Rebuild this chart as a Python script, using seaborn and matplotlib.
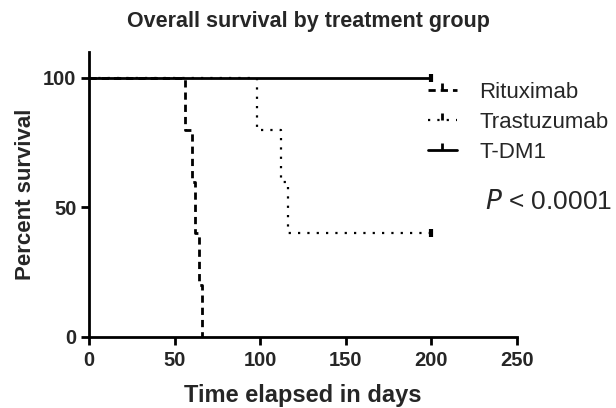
import matplotlib
matplotlib.use("Agg")
import matplotlib.pyplot as plt
from matplotlib.lines import Line2D
import seaborn as sns
import pandas as pd

# Data
rit_t = [0, 56, 60, 62, 64, 66]
rit_s = [100, 80, 60, 40, 20, 0]
tra_t = [0, 98, 112, 116, 200]
tra_s = [100, 80, 60, 40, 40]
tdm_t = [0, 200]
tdm_s = [100, 100]
censor_t = [200, 200]
censor_s = [40, 100]
groups = ["Rituximab", "Trastuzumab", "T-DM1"]
x_ticks = [0, 50, 100, 150, 200, 250]
y_ticks = [0, 50, 100]

sns.set_theme(style="ticks")
plt.rcParams["font.family"] = ["Liberation Sans", "DejaVu Sans"]

W, H = 616, 408
fig = plt.figure(figsize=(W / 100, H / 100), dpi=100)
ax = fig.add_axes([89 / W, 1 - 337 / H, (517 - 89) / W, (337 - 52) / H])

rit_ls = (0, (2.6, 1.8))
tra_ls = (0, (1.0, 3.2))

df_r = pd.DataFrame({"t": rit_t, "s": rit_s})
df_t = pd.DataFrame({"t": tra_t, "s": tra_s})
df_d = pd.DataFrame({"t": tdm_t, "s": tdm_s})

sns.lineplot(data=df_r, x="t", y="s", ax=ax, estimator=None, sort=False,
             drawstyle="steps-post", color="black", lw=2.0, linestyle=rit_ls)
sns.lineplot(data=df_t, x="t", y="s", ax=ax, estimator=None, sort=False,
             drawstyle="steps-post", color="black", lw=1.6, linestyle=tra_ls)
sns.lineplot(data=df_d, x="t", y="s", ax=ax, estimator=None, sort=False,
             drawstyle="steps-post", color="black", lw=2.0)
ax.plot(censor_t, censor_s, linestyle="none", marker="|", color="black",
        markersize=6, markeredgewidth=3)

ax.set_xlim(0, 250)
ax.set_ylim(0, 110)
ax.set_xticks(x_ticks)
ax.set_yticks(y_ticks)
ax.set_xticklabels([str(v) for v in x_ticks], fontsize=14.5, fontweight="bold")
ax.set_yticklabels([str(v) for v in y_ticks], fontsize=14.5, fontweight="bold")
ax.tick_params(axis="both", width=2, length=6, color="black", pad=3)
ax.tick_params(axis="x", pad=4)
for side in ["left", "bottom"]:
    ax.spines[side].set_linewidth(2)
    ax.spines[side].set_color("black")
sns.despine(ax=ax)
ax.set_xlabel("Time elapsed in days", fontsize=17, fontweight="bold", va="top")
ax.xaxis.set_label_coords(0.5, -0.165)
ax.set_ylabel("Percent survival", fontsize=16, fontweight="bold")
ax.yaxis.set_label_coords(-0.125, 0.5)
fig.text(0.5, 1 - 22 / H, "Overall survival by treatment group", fontsize=15.5,
         fontweight="bold", ha="center", va="center")

handles = [
    Line2D([], [], color="black", lw=2.0, linestyle=rit_ls, marker=2,
           markersize=5, markeredgewidth=2),
    Line2D([], [], color="black", lw=1.6, linestyle=tra_ls, marker=2,
           markersize=5, markeredgewidth=2),
    Line2D([], [], color="black", lw=2.0, marker=2, markersize=5,
           markeredgewidth=2),
]
leg = fig.legend(handles, groups, loc="upper left",
                 bbox_to_anchor=(428 / W, 1 - 82 / H),
                 frameon=False, fontsize=16, handlelength=1.3,
                 handletextpad=1.0, labelspacing=0.4, borderpad=0,
                 borderaxespad=0, numpoints=1)
fig.text(485 / W, 1 - 202 / H, "$\\it{P}$ < 0.0001", fontsize=19,
         ha="left", va="center")

fig.savefig("out.png", dpi=100)
